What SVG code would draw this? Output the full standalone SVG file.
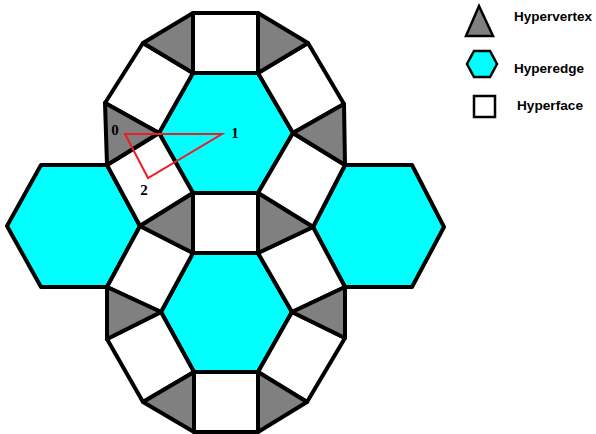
<svg xmlns="http://www.w3.org/2000/svg" width="596" height="434" viewBox="0 0 596 434">
<style>
.t{fill:#808080;stroke:#000;stroke-width:4;stroke-linejoin:round}
.h{fill:#00ffff;stroke:#000;stroke-width:4;stroke-linejoin:round}
.s{fill:#fff;stroke:#000;stroke-width:4;stroke-linejoin:round}
.lt{fill:#808080;stroke:#000;stroke-width:2.5}
.lh{fill:#00ffff;stroke:#000;stroke-width:2.5}
.ls{fill:#fff;stroke:#000;stroke-width:2.5}
.lbl{font-family:"Liberation Sans",Arial,sans-serif;font-weight:bold;font-size:13.5px;fill:#000}
.num{font-family:"Liberation Serif","Times New Roman",serif;font-weight:bold;font-size:15px;fill:#000}
.red{fill:none;stroke:#ee1c24;stroke-width:2}
</style>
<rect width="596" height="434" fill="#fff"/>
<g id="tiles">
<g id="hex-top"><polygon class="h" points="193,73 258,73 293,133 258,193 193,193 159,133"/></g>
<g id="hex-bottom"><polygon class="h" points="193,253 258,253 292,312 258,372 194,372 161,312"/></g>
<g id="hex-left"><polygon class="h" points="41,165 107,165 140,226 107,287 41,287 7,226"/></g>
<g id="hex-right"><polygon class="h" points="345,165 412,165 444,227 412,287 345,287 313,227"/></g>
<g id="sq-top"><polygon class="s" points="193,13 258,13 258,73 193,73"/></g>
<g id="sq-mid"><polygon class="s" points="193,193 258,193 258,253 193,253"/></g>
<g id="sq-bottom"><polygon class="s" points="194,372 258,372 258,432 194,432"/></g>
<g id="sq-ul-out"><polygon class="s" points="143,43 193,73 159,133 105,103"/></g>
<g id="sq-ur-out"><polygon class="s" points="308,43 258,73 293,133 344,104"/></g>
<g id="sq-ul-in"><polygon class="s" points="159,133 193,193 140,226 107,165"/></g>
<g id="sq-ur-in"><polygon class="s" points="293,133 258,193 313,227 345,165"/></g>
<g id="sq-ll-in"><polygon class="s" points="140,226 193,253 161,312 107,287"/></g>
<g id="sq-lr-in"><polygon class="s" points="313,227 258,253 292,312 345,287"/></g>
<g id="sq-ll-out"><polygon class="s" points="107,339 161,312 194,372 143,402"/></g>
<g id="sq-lr-out"><polygon class="s" points="345,338 292,312 258,372 307,402"/></g>
<g id="tri-top-l"><polygon class="t" points="193,13 143,43 193,73"/></g>
<g id="tri-top-r"><polygon class="t" points="258,13 308,43 258,73"/></g>
<g id="tri-ul"><polygon class="t" points="105,103 159,133 107,165"/></g>
<g id="tri-ur"><polygon class="t" points="344,104 293,133 345,165"/></g>
<g id="tri-ml"><polygon class="t" points="193,193 140,226 193,253"/></g>
<g id="tri-mr"><polygon class="t" points="258,193 313,227 258,253"/></g>
<g id="tri-ll"><polygon class="t" points="107,287 161,312 107,339"/></g>
<g id="tri-lr"><polygon class="t" points="345,287 292,312 345,338"/></g>
<g id="tri-bot-l"><polygon class="t" points="143,402 194,372 194,432"/></g>
<g id="tri-bot-r"><polygon class="t" points="307,402 258,372 258,432"/></g>
</g>
<g id="connectors">
<polygon class="red" points="125,134 222,134 148,178"/>
</g>
<g id="labels">
<text class="num" x="115" y="135" text-anchor="middle">0</text>
<text class="num" x="235" y="138" text-anchor="middle">1</text>
<text class="num" x="144" y="195" text-anchor="middle">2</text>
</g>
<g id="legend">
<g id="leg-vertex"><polygon class="lt" points="479,6 493,36 466,36"/><text class="lbl" x="514" y="21" textLength="78" lengthAdjust="spacingAndGlyphs">Hypervertex</text></g>
<g id="leg-edge"><polygon class="lh" points="474,51 490,51 497,64 490,77 474,77 467,64"/><text class="lbl" x="514" y="73" textLength="70" lengthAdjust="spacingAndGlyphs">Hyperedge</text></g>
<g id="leg-face"><rect class="ls" x="474" y="96" width="21" height="21"/><text class="lbl" x="517" y="110" textLength="66" lengthAdjust="spacingAndGlyphs">Hyperface</text></g>
</g>
</svg>
